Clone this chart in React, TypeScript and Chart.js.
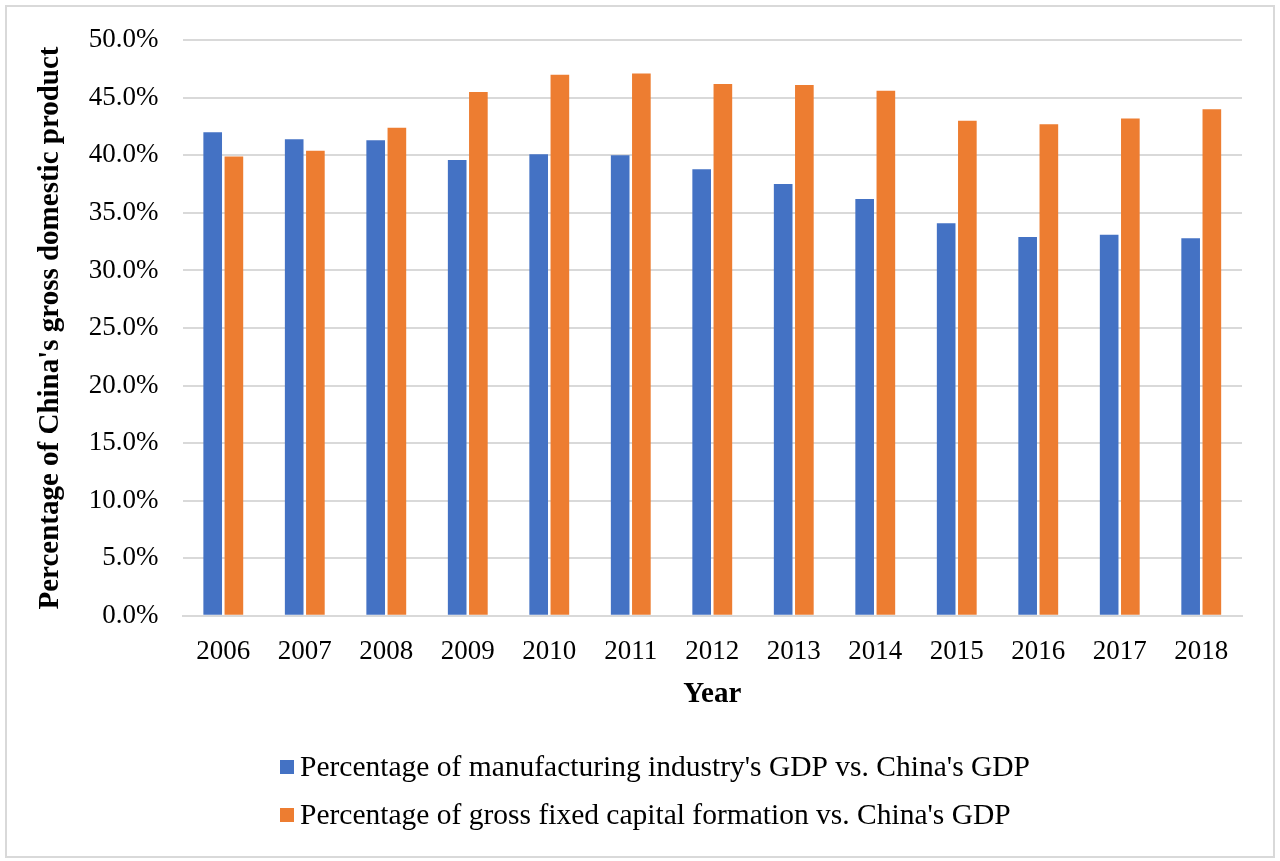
import React, { useEffect, useRef } from "react";
import { Chart, registerables } from "chart.js";

Chart.register(...registerables);

const years = ["2006", "2007", "2008", "2009", "2010", "2011", "2012", "2013", "2014", "2015", "2016", "2017", "2018"];
const manufacturingShare = [42.0, 41.4, 41.3, 39.6, 40.1, 40.0, 38.8, 37.5, 36.2, 34.1, 32.9, 33.1, 32.8];
const capitalFormationShare = [39.9, 40.4, 42.4, 45.5, 47.0, 47.1, 46.2, 46.1, 45.6, 43.0, 42.7, 43.2, 44.0];
const seriesLabels = [
  "Percentage of manufacturing industry's GDP vs. China's GDP",
  "Percentage of gross fixed capital formation vs. China's GDP",
];
const seriesColors = ["#4472C4", "#ED7D31"];

const FONT = "'Liberation Serif', 'Times New Roman', serif";

// Left-aligned, stacked legend drawn below the axis title (Excel style)
const stackedLegend = {
  id: "stackedLegend",
  afterDraw(chart: any) {
    const ctx = chart.ctx;
    ctx.save();
    ctx.font = `29.5px ${FONT}`;
    ctx.textBaseline = "middle";
    ctx.textAlign = "left";
    const x0 = 280;
    const firstY = chart.height - 94;
    const rowGap = 48;
    chart.data.datasets.forEach((ds: any, i: number) => {
      const y = firstY + i * rowGap;
      ctx.fillStyle = ds.backgroundColor;
      ctx.fillRect(x0, y - 7, 14, 14);
      ctx.fillStyle = "#000";
      ctx.fillText(ds.label, x0 + 20, y + 1);
    });
    ctx.restore();
  },
};

export default function App() {
  const ref = useRef<HTMLCanvasElement | null>(null);

  useEffect(() => {
    document.body.style.margin = "0";
    const ctx = ref.current!.getContext("2d")!;
    const chart = new Chart(ctx, {
      type: "bar",
      data: {
        labels: years,
        datasets: [
          {
            label: seriesLabels[0],
            data: manufacturingShare,
            backgroundColor: seriesColors[0],
            categoryPercentage: 0.52,
            barPercentage: 0.88,
          },
          {
            label: seriesLabels[1],
            data: capitalFormationShare,
            backgroundColor: seriesColors[1],
            categoryPercentage: 0.52,
            barPercentage: 0.88,
          },
        ],
      },
      options: {
        animation: false,
        responsive: true,
        maintainAspectRatio: false,
        layout: { padding: { left: 33, right: 38, top: 24, bottom: 123 } },
        scales: {
          x: {
            grid: { display: false, drawTicks: false },
            border: { display: true, color: "#d9d9d9", width: 2 },
            ticks: { color: "#000", font: { family: FONT, size: 27 }, padding: 20 },
            title: {
              display: true,
              text: "Year",
              color: "#000",
              font: { family: FONT, size: 29, weight: "bold" },
              padding: { top: -11, bottom: 26 },
            },
          },
          y: {
            min: 0,
            max: 50,
            ticks: {
              stepSize: 5,
              color: "#000",
              font: { family: FONT, size: 27 },
              padding: 24,
              callback: (v: any) => Number(v).toFixed(1) + "%",
            },
            grid: { color: "#d9d9d9", lineWidth: 2, drawTicks: false },
            border: { display: false },
            title: {
              display: true,
              text: "Percentage of China's gross domestic product",
              color: "#000",
              font: { family: FONT, size: 29, weight: "bold" },
              padding: { top: 0, bottom: -3 },
            },
          },
        },
        plugins: {
          legend: { display: false },
          tooltip: { enabled: false },
        },
      },
      plugins: [stackedLegend],
    });
    return () => chart.destroy();
  }, []);

  return (
    <div style={{ position: "relative", width: 1280, height: 861, background: "#fff" }}>
      <div
        style={{
          position: "absolute",
          left: 5,
          top: 5,
          width: 1266,
          height: 849,
          border: "2px solid #d9d9d9",
          pointerEvents: "none",
        }}
      />
      <canvas ref={ref} style={{ position: "absolute", left: 0, top: 0 }} />
    </div>
  );
}
